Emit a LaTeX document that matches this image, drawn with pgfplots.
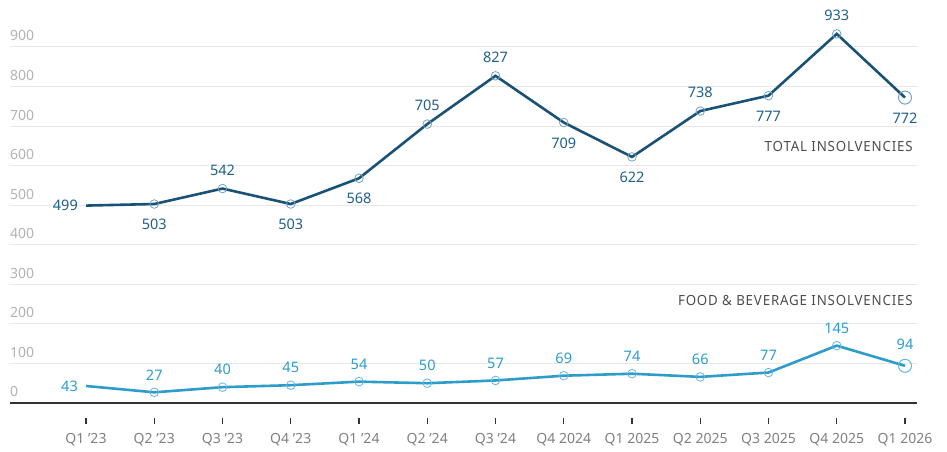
\documentclass[border=0pt]{standalone}
\usepackage{pgfplots}
\usepackage{pgfplotstable}
\pgfplotsset{compat=1.18}
\usepackage{fontspec}
\setmainfont{Noto Sans}
\newfontfamily\condfont[FakeStretch=0.95,LetterSpace=6]{Noto Sans}

\definecolor{totalc}{HTML}{1A5276}
\definecolor{totalring}{HTML}{6FA3C6}
\definecolor{totallab}{HTML}{22608A}
\definecolor{foodc}{HTML}{2E9CCB}
\definecolor{foodring}{HTML}{62B6DB}
\definecolor{foodlab}{HTML}{2F9CCB}
\definecolor{ytickc}{HTML}{B3B3B3}
\definecolor{xtickc}{HTML}{808080}
\definecolor{gridc}{HTML}{E8E8E8}
\definecolor{axisc}{HTML}{333333}
\definecolor{serlab}{HTML}{4D4D4D}

% a = label anchor as angle: 0 east, 90 north, 270 south
\pgfplotstableread{
x y a dx dy
0 499 0 -8 0
1 503 90 0 -15
2 542 270 0 13
3 503 90 0 -15
4 568 90 0 -15
5 705 270 0 13
6 827 270 0 13
7 709 90 0 -15
8 622 90 0 -15
9 738 270 0 13
10 777 90 0 -15
11 933 270 0 13
12 772 90 0 -15
}\totaltab

\pgfplotstableread{
x y a dx dy
0 43 0 -8 0
1 27 270 0 12
2 40 270 0 12
3 45 270 0 12
4 54 270 0 12
5 50 270 0 12
6 57 270 0 12
7 69 270 0 12
8 74 270 0 12
9 66 270 0 12
10 77 270 0 12
11 145 270 0 12
12 94 270 0 16
}\foodtab

\begin{document}
\begin{tikzpicture}[x=1pt,y=1pt]
\useasboundingbox (-10,-49) rectangle (937,403);
\begin{axis}[
  at={(0,0)}, anchor=south west,
  scale only axis, width=907pt, height=395.6pt,
  xmin=-1.1136, xmax=12.176, ymin=0, ymax=1000,
  clip=false,
  axis line style={draw=none},
  /pgf/number format/assume math mode=true,
  ytick={100,200,...,900},
  extra y ticks={0},
  extra y tick style={grid style={draw=axisc, line width=1.5pt}},
  ymajorgrids,
  grid style={draw=gridc, line width=1pt},
  ytick style={draw=none},
  ytick pos=left,
  xtick pos=bottom,
  xticklabel shift=0pt,
  yticklabel shift=0pt,
  yticklabel style={anchor=base west, inner sep=0pt, yshift=6pt, text=ytickc, font=\fontsize{14}{16}\selectfont},
  xtick={0,...,12},
  xticklabels={Q1 '23, Q2 '23, Q3 '23, Q4 '23, Q1 '24, Q2 '24, Q3 '24, Q4 2024, Q1 2025, Q2 2025, Q3 2025, Q4 2025, Q1 2026},
  xticklabel style={anchor=base, inner sep=0pt, yshift=-41pt, text=xtickc, font=\fontsize{14}{16}\selectfont},
  tick align=inside,
  major tick length=6pt,
  xtick style={draw=axisc, line width=1.3pt, yshift=-21pt},
]
% lines
\addplot[totalc, line width=2.6pt, mark=o, mark indices={2,...,12}, mark size=4.3pt,
  mark options={draw=totalring, line width=0.8pt, fill=none}] table[x=x,y=y]{\totaltab};
\addplot[foodc, line width=2.6pt, mark=o, mark indices={2,...,12}, mark size=4.3pt,
  mark options={draw=foodring, line width=0.8pt, fill=none}] table[x=x,y=y]{\foodtab};
% last points bigger ring
\addplot[only marks, mark=o, mark size=6.5pt, mark options={draw=totalring, line width=1pt, fill=none}] coordinates {(12,772)};
\addplot[only marks, mark=o, mark size=6.5pt, mark options={draw=foodring, line width=1pt, fill=none}] coordinates {(12,94)};
% labels
\addplot[draw=none, mark=none,
  visualization depends on={\thisrow{a}\as\anc},
  visualization depends on={\thisrow{dx}\as\ddx},
  visualization depends on={\thisrow{dy}\as\ddy},
  nodes near coords,
  nodes near coords style={anchor=\anc, xshift=\ddx pt, yshift=\ddy pt, inner sep=0pt, text=totallab, font=\fontsize{14.5}{16}\selectfont}
] table[x=x,y=y]{\totaltab};
\addplot[draw=none, mark=none,
  visualization depends on={\thisrow{a}\as\anc},
  visualization depends on={\thisrow{dx}\as\ddx},
  visualization depends on={\thisrow{dy}\as\ddy},
  nodes near coords,
  nodes near coords style={anchor=\anc, xshift=\ddx pt, yshift=\ddy pt, inner sep=0pt, text=foodlab, font=\fontsize{14.5}{16}\selectfont}
] table[x=x,y=y]{\foodtab};
\node[anchor=base east, inner sep=0pt, text=serlab, font=\condfont\fontsize{14}{16}\selectfont] at (axis cs:12.117,634.5) {TOTAL INSOLVENCIES};
\node[anchor=base east, inner sep=0pt, text=serlab, font=\condfont\fontsize{14}{16}\selectfont] at (axis cs:12.117,245.2) {FOOD \& BEVERAGE INSOLVENCIES};
\end{axis}
\end{tikzpicture}
\end{document}
